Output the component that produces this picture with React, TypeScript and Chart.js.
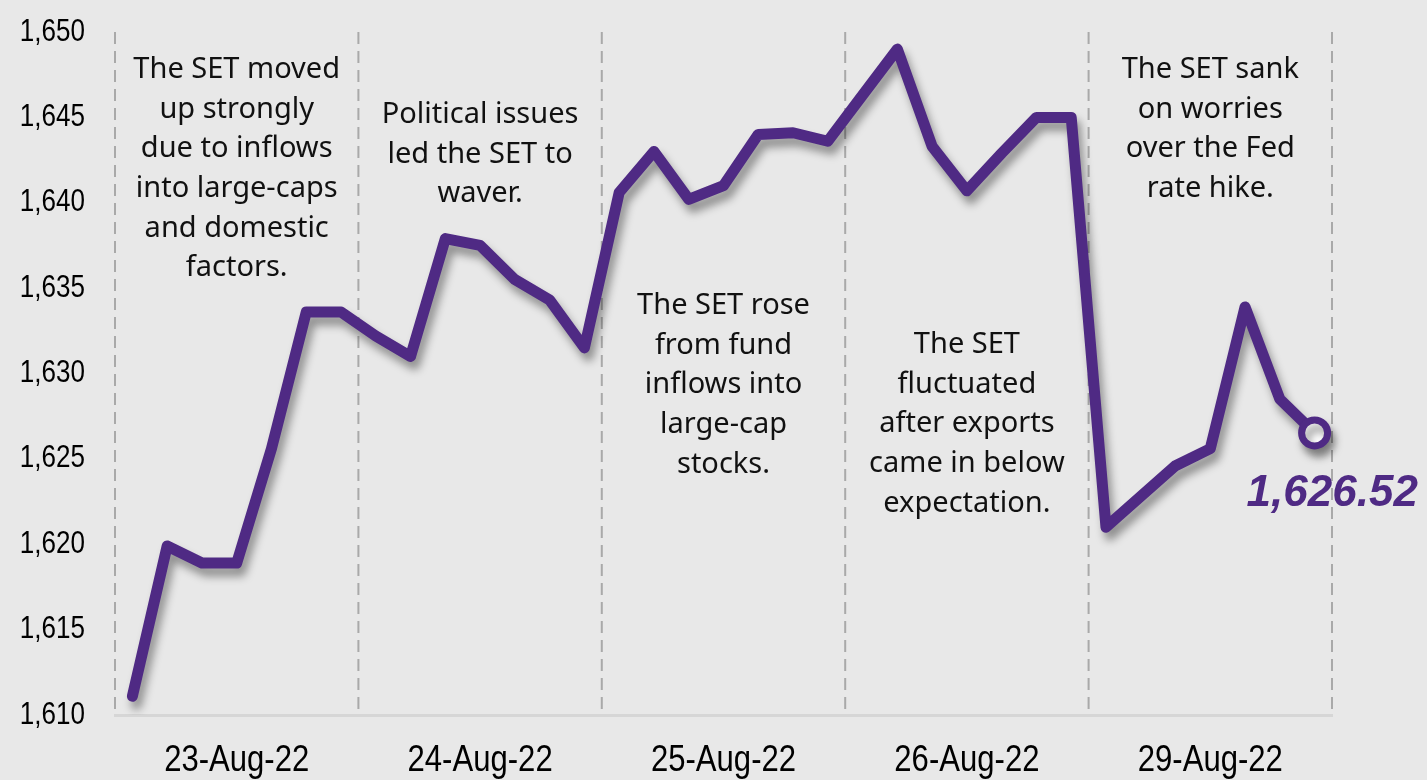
import React, { useEffect, useRef } from "react";
import { Chart, registerables } from "chart.js";

Chart.register(...registerables);

const days = ["23-Aug-22", "24-Aug-22", "25-Aug-22", "26-Aug-22", "29-Aug-22"];
const day1 = [1611.1, 1619.9, 1618.9, 1618.9, 1625.6, 1633.6, 1633.6];
const day2 = [1632.2, 1631.0, 1637.9, 1637.5, 1635.5, 1634.3, 1631.5];
const day3 = [1640.6, 1643.0, 1640.2, 1641.0, 1644.0, 1644.1, 1643.6];
const day4 = [1646.3, 1649.0, 1643.3, 1640.7, 1642.9, 1645.0, 1645.0];
const day5 = [1621.0, 1622.8, 1624.6, 1625.6, 1633.9, 1628.5, 1626.52];
const dayValues = [day1, day2, day3, day4, day5];

const yMin = 1610;
const yMax = 1650;
const yStep = 5;

const notes = [
  ["The SET moved", "up strongly", "due to inflows", "into large-caps", "and domestic", "factors."],
  ["Political issues", "led the SET to", "waver."],
  ["The SET rose", "from fund", "inflows into", "large-cap", "stocks."],
  ["The SET", "fluctuated", "after exports", "came in below", "expectation."],
  ["The SET sank", "on worries", "over the Fed", "rate hike."],
];
const noteTopValues = [1647.78, 1645.14, 1633.96, 1631.67, 1647.78];

const PURPLE = "#4f2a84";
const NARROW = 0.84;

const labels: string[] = [];
const values: number[] = [];
dayValues.forEach((arr, d) => {
  arr.forEach((v, i) => {
    labels.push(days[d] + "#" + i);
    values.push(v);
  });
});
const perDay = day1.length;
const lastIndex = values.length - 1;

function narrowText(ctx: any, text: string, x: number, y: number, align: string) {
  ctx.save();
  ctx.translate(x, y);
  ctx.scale(NARROW, 1);
  ctx.textAlign = align;
  ctx.fillText(text, 0, 0);
  ctx.restore();
}

const overlayPlugin = {
  id: "overlay",
  beforeDatasetsDraw(chart: any) {
    const { ctx, chartArea, scales } = chart;
    const x = scales.x;
    const y = scales.y;
    ctx.save();
    ctx.strokeStyle = "#a9a9a9";
    ctx.lineWidth = 2;
    ctx.setLineDash([12, 7]);
    for (let d = 0; d <= days.length; d++) {
      let px: number;
      if (d === 0) px = chartArea.left;
      else if (d === days.length) px = chartArea.right;
      else px = (x.getPixelForValue(d * perDay - 1) + x.getPixelForValue(d * perDay)) / 2;
      ctx.beginPath();
      ctx.moveTo(px, chartArea.top);
      ctx.lineTo(px, chartArea.bottom);
      ctx.stroke();
    }
    ctx.restore();
    ctx.save();
    ctx.fillStyle = "#111111";
    ctx.font = "29px 'Noto Sans', sans-serif";
    ctx.textAlign = "center";
    ctx.textBaseline = "middle";
    notes.forEach((lines, d) => {
      const cx = x.getPixelForValue(d * perDay + 3);
      const top = y.getPixelForValue(noteTopValues[d]);
      lines.forEach((t, i) => ctx.fillText(t, cx, top + i * 39.6));
    });
    ctx.restore();
    ctx.save();
    ctx.shadowColor = "rgba(0,0,0,0.38)";
    ctx.shadowBlur = 9;
    ctx.shadowOffsetX = 4;
    ctx.shadowOffsetY = 8;
  },
  afterDatasetsDraw(chart: any) {
    const { ctx, scales, chartArea } = chart;
    ctx.restore();
    ctx.save();
    ctx.fillStyle = "#000000";
    ctx.textBaseline = "middle";
    ctx.font = "31px 'Liberation Sans', Arial, sans-serif";
    scales.y.ticks.forEach((t: any, i: number) => {
      const py = scales.y.getPixelForTick(i);
      narrowText(ctx, Number(t.value).toLocaleString("en-US"), chartArea.left - 30, py, "right");
    });
    ctx.font = "37px 'Liberation Sans', Arial, sans-serif";
    days.forEach((d, i) => {
      const px = scales.x.getPixelForValue(i * perDay + 3);
      narrowText(ctx, d, px, chartArea.bottom + 46, "center");
    });
    ctx.restore();
    const meta = chart.getDatasetMeta(0);
    const pt = meta.data[lastIndex];
    ctx.save();
    ctx.fillStyle = PURPLE;
    ctx.font = "italic bold 44px 'Liberation Sans', Arial, sans-serif";
    ctx.textAlign = "left";
    ctx.textBaseline = "alphabetic";
    const v = values[lastIndex];
    ctx.fillText(v.toLocaleString("en-US", { minimumFractionDigits: 2 }), pt.x - 68, pt.y + 73);
    ctx.restore();
  },
};

export default function App() {
  const ref = useRef<HTMLCanvasElement>(null);
  useEffect(() => {
    const canvas = ref.current!;
    const chart = new Chart(canvas, {
      type: "line",
      data: {
        labels,
        datasets: [
          {
            data: values,
            borderColor: PURPLE,
            borderWidth: 11,
            borderCapStyle: "round",
            borderJoinStyle: "round",
            tension: 0,
            pointRadius: values.map((_, i) => (i === lastIndex ? 13 : 0)),
            pointBackgroundColor: "#ffffff",
            pointBorderColor: PURPLE,
            pointBorderWidth: 7,
          },
        ],
      },
      options: {
        responsive: false,
        animation: false,
        devicePixelRatio: 1,
        layout: { padding: { top: 32, right: 95, bottom: 0, left: 0 } },
        plugins: { legend: { display: false }, tooltip: { enabled: false } },
        scales: {
          x: {
            type: "category",
            offset: true,
            grid: { display: false, drawTicks: false },
            border: { display: true, color: "#d6d6d6", width: 3 },
            ticks: {
              autoSkip: false,
              maxRotation: 0,
              color: "transparent",
              font: { size: 2 },
              callback: () => "",
            },
            afterFit: (s: any) => {
              s.height = 65;
              s.paddingLeft = 0;
              s.paddingRight = 0;
            },
          },
          y: {
            min: yMin,
            max: yMax,
            grid: { display: false, drawTicks: false },
            border: { display: false },
            ticks: {
              stepSize: yStep,
              padding: 0,
              color: "transparent",
              font: { size: 2 },
              callback: (v: any) => Number(v).toLocaleString("en-US"),
            },
            afterFit: (s: any) => {
              s.width = 115;
              s.paddingTop = 0;
              s.paddingBottom = 0;
            },
          },
        },
      },
      plugins: [overlayPlugin],
    });
    return () => chart.destroy();
  }, []);
  return (
    <div style={{ position: "fixed", left: 0, top: 0, width: 1427, height: 780, background: "#e8e8e8" }}>
      <canvas ref={ref} width={1427} height={780} style={{ display: "block" }} />
    </div>
  );
}
